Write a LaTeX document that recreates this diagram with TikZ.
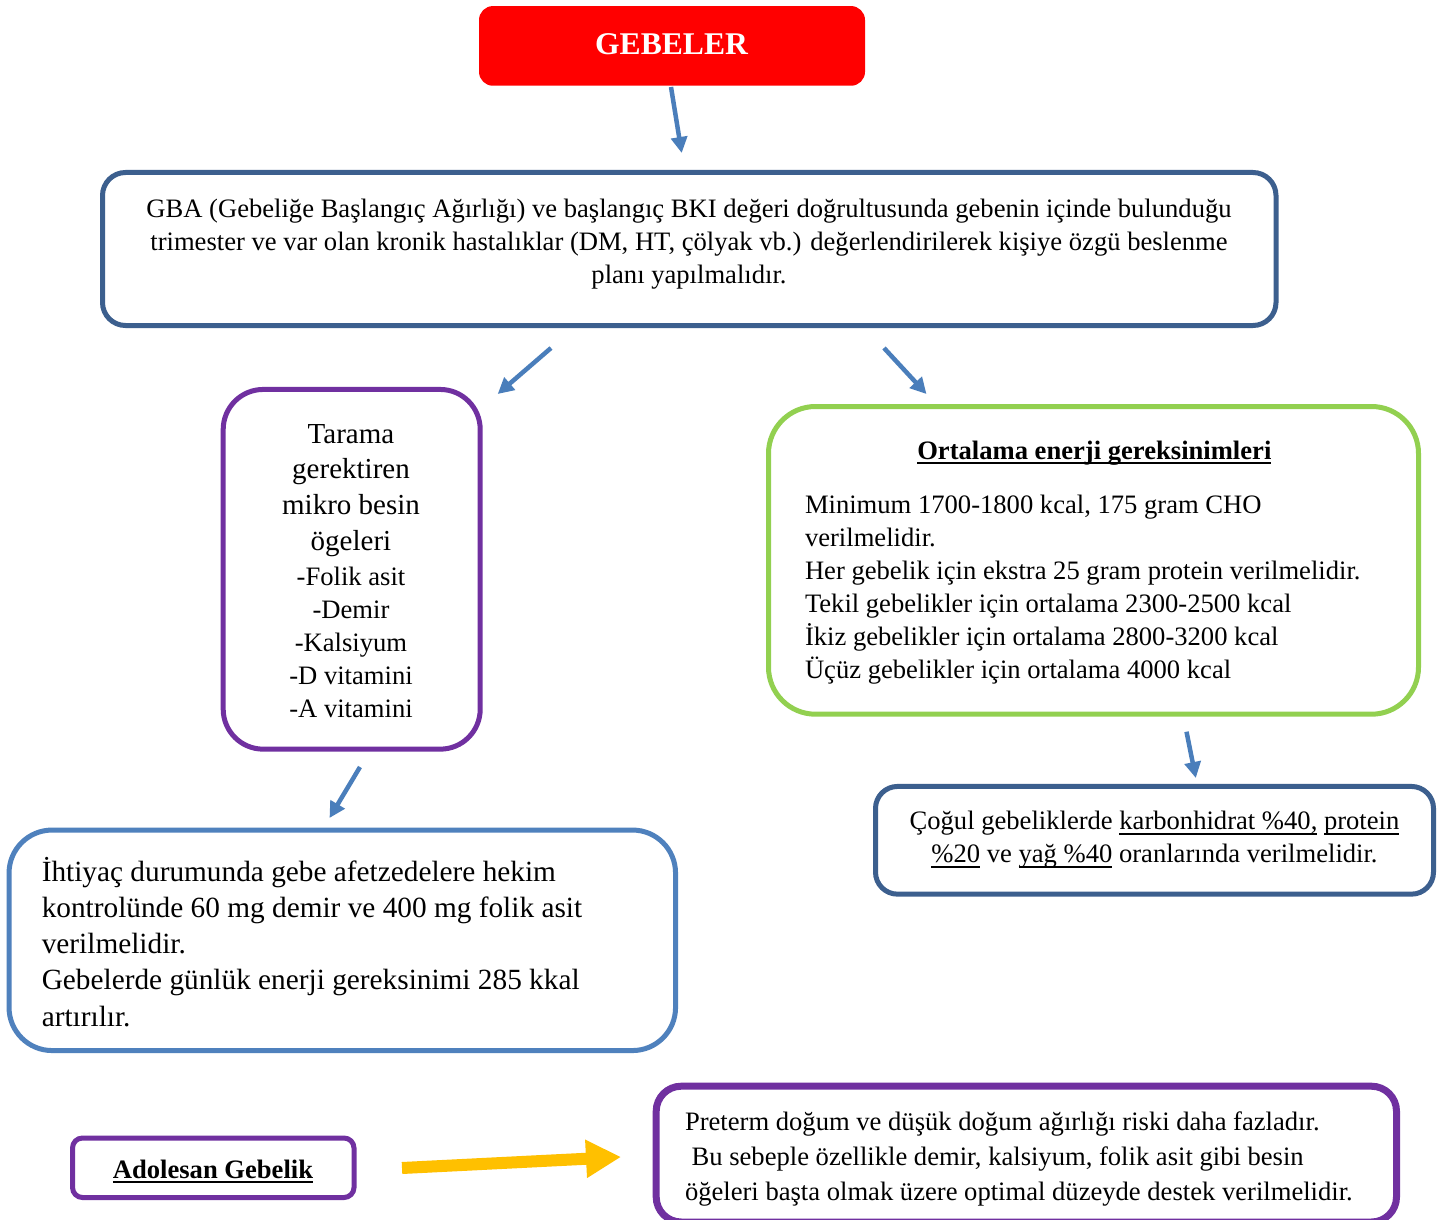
\documentclass[tikz,border=0pt]{standalone}
\usepackage{fontspec}
\setmainfont{Liberation Serif}
\usetikzlibrary{arrows.meta}
\definecolor{gred}{HTML}{FF0000}
\definecolor{arrowblue}{HTML}{4A7EBB}
\definecolor{dblue}{HTML}{3C5F8E}
\definecolor{mblue}{HTML}{4F81BD}
\definecolor{purp}{HTML}{7030A0}
\definecolor{lgreen}{HTML}{92D050}
\definecolor{gold}{HTML}{FFC000}
\newcommand\bodyfs{\fontsize{26.6pt}{33pt}\selectfont}
\newcommand\myul[2][4pt]{\leavevmode\setbox0=\hbox{#2}\rlap{\rule[-#1]{\wd0}{1.4pt}}\box0\relax}
\tikzset{
  boxframe/.style={draw, line width=5pt, inner sep=0pt, outer sep=0pt},
  txt/.style={inner sep=0pt, outer sep=0pt, text=black},
  blarrow/.style={draw=arrowblue, line width=4.5pt, -{Triangle[length=16pt,width=16pt]}},
  yarrow/.style={draw=gold, line width=12pt, -{Triangle[length=35pt,width=36pt]}}
}
\begin{document}
\begin{tikzpicture}[x=1pt,y=-1pt]
\clip (0,0) rectangle (1438,1220);
\fill[white] (0,0) rectangle (1438,1220);

% GEBELER
\node[boxframe, draw=none, fill=gred, rounded corners=14pt, minimum width=386pt, minimum height=79.7pt] (gebeler) at (672,45.9) {};
\node[txt, text=white, font=\fontsize{31.6pt}{36pt}\selectfont\bfseries] (gebelerT) at (671.5,44) {GEBELER};

% GBA box
\node[boxframe, draw=dblue, rounded corners=23pt, minimum width=1173.5pt, minimum height=153pt] (gba) at (689.25,249) {};
\node[txt, align=center, font=\bodyfs] (gbaT) at (689,243.5) {\strut GBA (Gebeliğe Başlangıç Ağırlığı) ve başlangıç BKI değeri doğrultusunda gebenin içinde bulunduğu\\trimester ve var olan kronik hastalıklar (DM, HT, çölyak vb.) değerlendirilerek kişiye özgü beslenme\\planı yapılmalıdır.\strut};

% Tarama box
\node[boxframe, draw=purp, rounded corners=40pt, minimum width=257pt, minimum height=359.7pt] (tarama) at (351.7,569.3) {};
\node[txt, align=center, font=\fontsize{29pt}{35.7pt}\selectfont] (taramaA) at (351,489.5) {\strut Tarama\\gerektiren\\mikro besin\\ögeleri\strut};
\node[txt, align=center, font=\bodyfs] (taramaB) at (351,645) {\strut -Folik asit\\-Demir\\-Kalsiyum\\-D vitamini\\-A vitamini\strut};

% Ortalama box
\node[boxframe, draw=lgreen, rounded corners=47pt, minimum width=650pt, minimum height=307.7pt] (ort) at (1093.5,560.35) {};
\node[txt, font=\bodyfs\bfseries] (ortT) at (1094.3,452.5) {\strut\myul[4.5pt]{Ortalama enerji gereksinimleri}};
\node[txt, align=left, anchor=west, font=\bodyfs] (ortB) at (805,589.5) {\strut Minimum 1700-1800 kcal, 175 gram CHO\\verilmelidir.\\Her gebelik için ekstra 25 gram protein verilmelidir.\\Tekil gebelikler için ortalama 2300-2500 kcal\\İkiz gebelikler için ortalama 2800-3200 kcal\\Üçüz gebelikler için ortalama 4000 kcal\strut};

% Cogul box
\node[boxframe, draw=dblue, rounded corners=22pt, minimum width=558pt, minimum height=107.7pt] (cogul) at (1154.5,840.3) {};
\node[txt, align=center, font=\bodyfs] (cogulT) at (1154.5,839.5) {\strut Çoğul gebeliklerde \myul[5pt]{karbonhidrat \%40,} \myul[5pt]{protein}\\\myul[5pt]{\%20} ve \myul[5pt]{yağ \%40} oranlarında verilmelidir.\strut};

% Ihtiyac box
\node[boxframe, draw=mblue, rounded corners=43pt, minimum width=666.5pt, minimum height=220.5pt] (ihtiyac) at (342.3,940.3) {};
\node[txt, align=left, anchor=west, font=\fontsize{29.3pt}{36.2pt}\selectfont] (ihtiyacT) at (41.8,946.5) {\strut İhtiyaç durumunda gebe afetzedelere hekim\\kontrolünde 60 mg demir ve 400 mg folik asit\\verilmelidir.\\Gebelerde günlük enerji gereksinimi 285 kkal\\artırılır.\strut};

% Adolesan box
\node[boxframe, draw=purp, rounded corners=10pt, minimum width=281.5pt, minimum height=59.5pt] (adol) at (213.25,1167.75) {};
\node[txt, font=\bodyfs\bfseries] (adolT) at (213,1172) {\strut\myul[4pt]{Adolesan Gebelik}};

% Preterm box
\node[boxframe, draw=purp, line width=7pt, rounded corners=25pt, minimum width=740.3pt, minimum height=135.8pt] (pre) at (1026.35,1154.1) {};
\node[txt, align=left, anchor=west, font=\fontsize{26.6pt}{34.8pt}\selectfont] (preT) at (685,1158.5) {\strut Preterm doğum ve düşük doğum ağırlığı riski daha fazladır.\\\hspace*{6.6pt}Bu sebeple özellikle demir, kalsiyum, folik asit gibi besin\\öğeleri başta olmak üzere optimal düzeyde destek verilmelidir.\strut};

% arrows
\coordinate (a1s) at (671,87);     \coordinate (a1e) at (681.7,153);
\coordinate (a2s) at (551,348);    \coordinate (a2e) at (497.7,394);
\coordinate (a3s) at (884,348);    \coordinate (a3e) at (926.5,394);
\coordinate (a4s) at (1186.5,731.7); \coordinate (a4e) at (1195.8,778);
\coordinate (a5s) at (360,767);    \coordinate (a5e) at (329.5,818);
\coordinate (ys) at (402,1168);    \coordinate (ye) at (621,1157);
\draw[blarrow] (a1s) -- (a1e);
\draw[blarrow] (a2s) -- (a2e);
\draw[blarrow] (a3s) -- (a3e);
\draw[blarrow] (a4s) -- (a4e);
\draw[blarrow] (a5s) -- (a5e);
\draw[yarrow] (ys) -- (ye);
\end{tikzpicture}
\end{document}
